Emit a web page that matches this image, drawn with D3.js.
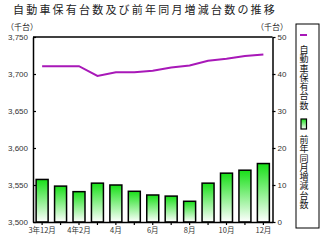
<!DOCTYPE html>
<html>
<head>
<meta charset="utf-8">
<script src="https://cdn.jsdelivr.net/npm/d3@7"></script>
<style>
  body { margin: 0; background: #fff; }
  svg { display: block; }
</style>
</head>
<body>
<div id="grafica"></div>
<script>
// datos
var meses = ["3年12月", "4年1月", "4年2月", "4年3月", "4年4月", "4年5月", "4年6月",
  "4年7月", "4年8月", "4年9月", "4年10月", "4年11月", "4年12月"];
var etiquetasX = ["3年12月", "", "4年2月", "", "4月", "", "6月", "", "8月", "", "10月", "", "12月"];
var hoyu = [3710.5, 3710.5, 3710.5, 3697.4, 3702.5, 3702.5, 3704.3, 3708.8, 3711.5, 3717.8, 3720.5, 3724.2, 3726.5];
var zougen = [11.5, 9.7, 8.2, 10.5, 10.0, 8.3, 7.3, 7.0, 5.6, 10.5, 13.2, 14.0, 15.8];
var ticksIzq = [3500, 3550, 3600, 3650, 3700, 3750];
var ticksDer = [0, 10, 20, 30, 40, 50];

var width = 323, height = 240;
// bordes del área de trazado
var margen = { izq: 33, der: 272.5, arriba: 37, abajo: 222 };
var jp = "'Noto Sans CJK JP', sans-serif";
var num = "'Liberation Sans', Arial, sans-serif";

var svg = d3.select("#grafica")
  .append("svg")
  .attr("width", width)
  .attr("height", height);

// degradado de las barras
var grad = svg.append("defs").append("linearGradient")
  .attr("id", "verde")
  .attr("x1", 0).attr("y1", 0).attr("x2", 0).attr("y2", 1);
grad.append("stop").attr("offset", "0%").attr("stop-color", "#18e018");
grad.append("stop").attr("offset", "100%").attr("stop-color", "#ffffff");

// título
svg.append("text")
  .attr("x", 13)
  .attr("y", 14)
  .style("font-family", jp)
  .style("font-size", "11px")
  .style("letter-spacing", "2.2px")
  .style("fill", "#222")
  .text("自動車保有台数及び前年同月増減台数の推移");

var x = d3.scaleBand()
  .domain(meses)
  .range([margen.izq, margen.der])
  .paddingInner(0.35)
  .paddingOuter(0.17);

var yIzq = d3.scaleLinear().domain([3500, 3750]).range([margen.abajo, margen.arriba]);
var yDer = d3.scaleLinear().domain([0, 50]).range([margen.abajo, margen.arriba]);

// barras
svg.append("g")
  .selectAll("rect")
  .data(zougen)
  .enter()
  .append("rect")
  .attr("x", function (d, i) { return x(meses[i]); })
  .attr("y", function (d) { return yDer(d); })
  .attr("width", x.bandwidth())
  .attr("height", function (d) { return margen.abajo - yDer(d); })
  .style("fill", "url(#verde)")
  .style("stroke", "#000")
  .style("stroke-width", 1.5);

// línea
var linea = d3.line()
  .x(function (d, i) { return x(meses[i]) + x.bandwidth() / 2; })
  .y(function (d) { return yIzq(d); });
svg.append("path")
  .datum(hoyu)
  .attr("d", linea)
  .style("fill", "none")
  .style("stroke", "#a818b8")
  .style("stroke-width", 2);

// marco superior
svg.append("line")
  .attr("x1", margen.izq).attr("x2", margen.der)
  .attr("y1", margen.arriba).attr("y2", margen.arriba)
  .style("stroke", "#000").style("stroke-width", 1.5);

// eje izquierdo
var ejeIzq = svg.append("g")
  .attr("transform", "translate(" + margen.izq + ",0)")
  .call(d3.axisLeft(yIzq).tickValues(ticksIzq).tickSizeInner(-3).tickSizeOuter(0)
    .tickPadding(5).tickFormat(d3.format(",")));
// eje derecho
var ejeDer = svg.append("g")
  .attr("transform", "translate(" + margen.der + ",0)")
  .call(d3.axisRight(yDer).tickValues(ticksDer).tickSizeInner(3).tickSizeOuter(0)
    .tickPadding(2));
// eje x
var ejeX = svg.append("g")
  .attr("transform", "translate(0," + margen.abajo + ")")
  .call(d3.axisBottom(x).tickSizeInner(3).tickSizeOuter(0).tickPadding(3)
    .tickFormat(function (d, i) { return etiquetasX[i]; }));

[ejeIzq, ejeDer, ejeX].forEach(function (g) {
  g.select(".domain").style("stroke", "#000").style("stroke-width", 1.5);
  g.selectAll(".tick line").style("stroke", "#000").style("stroke-width", 1.2);
  g.selectAll("text").style("fill", "#333").style("font-size", "8px");
});
ejeIzq.selectAll("text").style("font-family", num);
ejeDer.selectAll("text").style("font-family", num);
ejeX.selectAll("text").style("font-family", jp).style("font-size", "7.5px");

// unidades
svg.append("text")
  .attr("x", 6).attr("y", 30)
  .style("font-family", jp).style("font-size", "8px").style("fill", "#222")
  .text("（千台）");
svg.append("text")
  .attr("x", 256).attr("y", 30)
  .style("font-family", jp).style("font-size", "8px").style("fill", "#222")
  .text("（千台）");

// leyenda
svg.append("rect")
  .attr("x", 296).attr("y", 24)
  .attr("width", 23).attr("height", 204)
  .style("fill", "#fff")
  .style("stroke", "#000")
  .style("stroke-width", 1);
svg.append("line")
  .attr("x1", 300).attr("x2", 307).attr("y1", 35).attr("y2", 35)
  .style("stroke", "#a818b8").style("stroke-width", 2);
svg.append("rect")
  .attr("x", 301).attr("y", 119)
  .attr("width", 5.5).attr("height", 10)
  .style("fill", "url(#verde)")
  .style("stroke", "#000")
  .style("stroke-width", 1.2);

var leyenda = [
  { texto: "自動車保有台数", y: 45 },
  { texto: "前年同月増減台数", y: 135 }
];
svg.selectAll("text.ley")
  .data(leyenda)
  .enter()
  .append("text")
  .attr("class", "ley")
  .attr("x", 304)
  .attr("y", function (d) { return d.y; })
  .style("writing-mode", "vertical-rl")
  .style("font-family", jp)
  .style("font-size", "9px")
  .style("letter-spacing", "0.3px")
  .style("fill", "#111")
  .text(function (d) { return d.texto; });
</script>
</body>
</html>
